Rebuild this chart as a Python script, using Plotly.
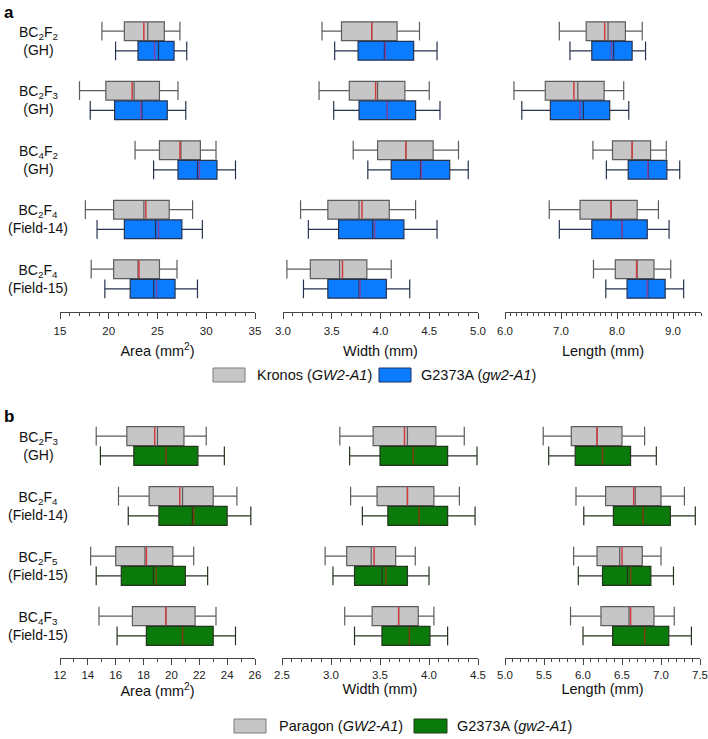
import plotly.graph_objects as go

# rows (top to bottom) of each panel
rows_a = ["BC<sub>2</sub>F<sub>2</sub><br>(GH)", "BC<sub>2</sub>F<sub>3</sub><br>(GH)",
          "BC<sub>4</sub>F<sub>2</sub><br>(GH)", "BC<sub>2</sub>F<sub>4</sub><br>(Field-14)",
          "BC<sub>2</sub>F<sub>4</sub><br>(Field-15)"]
rows_b = ["BC<sub>2</sub>F<sub>3</sub><br>(GH)", "BC<sub>2</sub>F<sub>4</sub><br>(Field-14)",
          "BC<sub>2</sub>F<sub>5</sub><br>(Field-15)", "BC<sub>4</sub>F<sub>3</sub><br>(Field-15)"]

# each entry: (lower whisker, Q1, median, Q3, upper whisker, mean)
a_area_kronos = [(19.3, 21.6, 24.0, 25.7, 27.3, 23.6), (17.0, 19.7, 22.6, 25.2, 27.1, 22.4),
                 (22.7, 25.2, 27.4, 29.4, 31.0, 27.3), (17.6, 20.5, 23.6, 26.2, 28.6, 23.8),
                 (18.2, 20.5, 23.0, 25.2, 27.0, 23.1)]
a_area_mut = [(20.7, 23.0, 25.1, 26.7, 28.0, 24.7), (18.1, 20.6, 23.4, 26.0, 27.9, 23.3),
              (24.6, 27.1, 29.1, 31.1, 33.0, 29.3), (18.8, 21.6, 24.8, 27.5, 29.6, 25.1),
              (19.6, 22.2, 24.6, 26.8, 29.1, 24.9)]
a_width_kronos = [(3.40, 3.60, 3.91, 4.17, 4.40, 3.91), (3.37, 3.68, 3.97, 4.25, 4.50, 3.95),
                  (3.72, 3.97, 4.26, 4.54, 4.80, 4.26), (3.18, 3.46, 3.78, 4.09, 4.36, 3.81),
                  (3.04, 3.28, 3.58, 3.86, 4.11, 3.61)]
a_width_mut = [(3.53, 3.77, 4.04, 4.34, 4.58, 4.05), (3.52, 3.78, 4.07, 4.36, 4.61, 4.07),
               (3.87, 4.11, 4.41, 4.71, 4.90, 4.42), (3.26, 3.57, 3.92, 4.24, 4.58, 3.94),
               (3.21, 3.46, 3.78, 4.06, 4.30, 3.79)]
a_length_kronos = [(6.97, 7.45, 7.84, 8.15, 8.45, 7.78), (6.16, 6.72, 7.30, 7.77, 8.12, 7.23),
                   (7.57, 7.92, 8.27, 8.60, 8.88, 8.27), (6.79, 7.34, 7.90, 8.36, 8.74, 7.89),
                   (7.58, 7.97, 8.36, 8.66, 8.96, 8.35)]
a_length_mut = [(7.16, 7.55, 7.94, 8.27, 8.51, 7.90), (6.30, 6.81, 7.40, 7.87, 8.21, 7.34),
                (7.81, 8.20, 8.56, 8.89, 9.12, 8.55), (6.97, 7.55, 8.09, 8.54, 8.93, 8.09),
                (7.80, 8.18, 8.55, 8.86, 9.19, 8.54)]

b_area_paragon = [(14.6, 16.8, 19.0, 20.9, 22.5, 18.8), (16.2, 18.4, 20.8, 23.0, 24.7, 20.6),
                  (14.2, 16.0, 18.1, 20.1, 21.6, 18.2), (14.8, 17.2, 19.6, 21.7, 23.2, 19.6)]
b_area_mut = [(14.9, 17.3, 19.6, 21.9, 23.8, 19.6), (16.9, 19.1, 21.5, 24.0, 25.7, 21.6),
              (14.6, 16.4, 18.7, 21.0, 22.6, 18.9), (16.1, 18.2, 20.8, 23.0, 24.6, 20.8)]
b_width_paragon = [(3.09, 3.43, 3.78, 4.07, 4.36, 3.75), (3.20, 3.47, 3.78, 4.05, 4.31, 3.78),
                   (2.94, 3.16, 3.41, 3.66, 3.86, 3.44), (3.14, 3.42, 3.69, 3.89, 4.05, 3.69)]
b_width_mut = [(3.19, 3.50, 3.84, 4.19, 4.49, 3.84), (3.32, 3.58, 3.90, 4.19, 4.47, 3.90),
               (3.02, 3.24, 3.52, 3.78, 4.00, 3.56), (3.24, 3.52, 3.80, 4.01, 4.19, 3.80)]
b_length_paragon = [(5.49, 5.85, 6.18, 6.50, 6.79, 6.18), (5.91, 6.29, 6.67, 7.00, 7.30, 6.65),
                    (5.88, 6.18, 6.47, 6.76, 7.00, 6.50), (5.84, 6.23, 6.59, 6.91, 7.17, 6.61)]
b_length_mut = [(5.56, 5.90, 6.25, 6.61, 6.94, 6.25), (6.01, 6.39, 6.77, 7.12, 7.44, 6.77),
                (5.94, 6.25, 6.57, 6.87, 7.16, 6.61), (6.00, 6.38, 6.79, 7.10, 7.39, 6.79)]

W, H = 708, 739
BOX_W = 0.315
OFF = 0.165
FONT = "Arial, Liberation Sans, sans-serif"

GRAY = dict(fill="#c6c6c6", line="#5c5c5c", mean="#d23c3c")
BLUE = dict(fill="#0b7bff", line="#26324f", mean="#7d45a8")
GREEN = dict(fill="#0a7a0a", line="#25351f", mean="#7a4214")


def px_x(px):
    return px / W


def px_y(px):
    return 1 - px / H


fig = go.Figure()


def add_group(stats, axis_id, offset, style):
    xa = "x" if axis_id == 1 else f"x{axis_id}"
    ya = "y" if axis_id == 1 else f"y{axis_id}"
    pos = [i + offset for i in range(len(stats))]
    fig.add_trace(go.Box(
        orientation="h", y=pos,
        lowerfence=[s[0] for s in stats], q1=[s[1] for s in stats],
        median=[s[2] for s in stats], q3=[s[3] for s in stats],
        upperfence=[s[4] for s in stats],
        width=BOX_W, whiskerwidth=1, fillcolor=style["fill"],
        line=dict(color=style["line"], width=1.2),
        xaxis=xa, yaxis=ya, showlegend=False, hoverinfo="skip"))
    # mean line drawn across the box
    xs, ys = [], []
    for p, s in zip(pos, stats):
        xs += [s[5], s[5], None]
        ys += [p - BOX_W / 2 + 0.01, p + BOX_W / 2 - 0.01, None]
    fig.add_trace(go.Scatter(x=xs, y=ys, mode="lines", line=dict(color=style["mean"], width=1.5),
                             xaxis=xa, yaxis=ya, showlegend=False, hoverinfo="skip"))


panels = [
    (1, a_area_kronos, a_area_mut, BLUE), (2, a_width_kronos, a_width_mut, BLUE),
    (3, a_length_kronos, a_length_mut, BLUE),
    (4, b_area_paragon, b_area_mut, GREEN), (5, b_width_paragon, b_width_mut, GREEN),
    (6, b_length_paragon, b_length_mut, GREEN),
]
for axis_id, wt, mut, col in panels:
    add_group(wt, axis_id, -OFF, GRAY)
    add_group(mut, axis_id, OFF, col)

# axis settings: (x domain px, range, major ticks, minor step, format, title)
x_specs = [
    ((60, 255), [15, 35], [15, 20, 25, 30, 35], 1, "d", "Area (mm<sup>2</sup>)"),
    ((283, 478), [3.0, 5.0], [3.0, 3.5, 4.0, 4.5, 5.0], 0.1, ".1f", "Width (mm)"),
    ((505, 701), [6.0, 9.5], [6.0, 7.0, 8.0, 9.0], 0.1, ".1f", "Length (mm)"),
    ((60, 255), [12, 26], [12, 14, 16, 18, 20, 22, 24, 26], 1, "d", "Area (mm<sup>2</sup>)"),
    ((282, 478), [2.5, 4.5], [2.5, 3.0, 3.5, 4.0, 4.5], 0.1, ".1f", "Width (mm)"),
    ((505, 700), [5.0, 7.5], [5.0, 5.5, 6.0, 6.5, 7.0, 7.5], 0.1, ".1f", "Length (mm)"),
]
y_dom_a = [px_y(312), px_y(5.3)]
y_dom_b = [px_y(658), px_y(410)]
y_rng_a = [len(rows_a) - 1 + 0.555, -0.6]
y_rng_b = [len(rows_b) - 1 + 0.533, -0.6]

layout_axes = {}
for i, (dom, rng, tv, mn, fmt, title) in enumerate(x_specs, start=1):
    sfx = "" if i == 1 else str(i)
    top = i <= 3
    layout_axes["xaxis" + sfx] = dict(
        domain=[px_x(dom[0]), px_x(dom[1])], range=rng, tickvals=tv, tickformat=fmt,
        anchor="y" + sfx, showline=True, linecolor="#444", linewidth=1, automargin=False,
        ticks="outside", ticklen=6, tickwidth=1, tickcolor="#444",
        minor=dict(dtick=mn, tick0=rng[0], ticks="outside", ticklen=3, tickcolor="#444", showgrid=False),
        showgrid=False, zeroline=False, tickfont=dict(size=11.5, color="#222"),
        ticklabelstandoff=2 if top else 0,
        title=dict(text=title, font=dict(size=14.5, color="#111"), standoff=10 if top else 3),
    )
    layout_axes["yaxis" + sfx] = dict(
        domain=y_dom_a if top else y_dom_b, range=y_rng_a if top else y_rng_b,
        visible=False, anchor="x" + sfx, fixedrange=True, automargin=False,
    )

annotations = []
for i, lab in enumerate(rows_a):
    annotations.append(dict(text=lab, x=px_x(38), y=i, xref="paper", yref="y", showarrow=False,
                            xanchor="center", yanchor="middle", align="center",
                            font=dict(size=14, color="#111")))
for i, lab in enumerate(rows_b):
    annotations.append(dict(text=lab, x=px_x(38), y=i, xref="paper", yref="y4", showarrow=False,
                            xanchor="center", yanchor="middle", align="center",
                            font=dict(size=14, color="#111")))

# panel letters
annotations.append(dict(text="<b>a</b>", x=px_x(2), y=px_y(1), xref="paper", yref="paper",
                        showarrow=False, xanchor="left", yanchor="top", font=dict(size=17, color="#000")))
annotations.append(dict(text="<b>b</b>", x=px_x(2), y=px_y(405), xref="paper", yref="paper",
                        showarrow=False, xanchor="left", yanchor="top", font=dict(size=17, color="#000")))

# legends (swatch + label)
legend_items = [
    ((213, 245), 375, GRAY, "#7a7a7a", "Kronos (<i>GW2-A1</i>)", 255),
    ((379, 411), 375, BLUE, "#1d3566", "G2373A (<i>gw2-A1</i>)", 419),
    ((234, 266), 726, GRAY, "#7a7a7a", "Paragon (<i>GW2-A1</i>)", 277),
    ((414, 447), 726, GREEN, "#1f3a14", "G2373A (<i>gw2-A1</i>)", 455),
]
shapes = []
for (x0, x1), yc, style, edge, text, tx in legend_items:
    shapes.append(dict(type="rect", xref="paper", yref="paper", x0=px_x(x0), x1=px_x(x1),
                       y0=px_y(yc + 7), y1=px_y(yc - 7), fillcolor=style["fill"],
                       line=dict(color=edge, width=1)))
    annotations.append(dict(text=text, x=px_x(tx), y=px_y(yc), xref="paper", yref="paper",
                            showarrow=False, xanchor="left", yanchor="middle",
                            font=dict(size=14.5, color="#111")))

fig.update_layout(
    width=W, height=H, margin=dict(l=0, r=0, t=0, b=0, autoexpand=False),
    paper_bgcolor="white", plot_bgcolor="white",
    font=dict(family=FONT), boxmode="overlay", showlegend=False,
    annotations=annotations, shapes=shapes, **layout_axes,
)

# drop the browser's default body margin so the figure sits at the window origin
fig.write_html("out.html", config={"displayModeBar": False},
               post_script="document.body.style.margin='0';")
